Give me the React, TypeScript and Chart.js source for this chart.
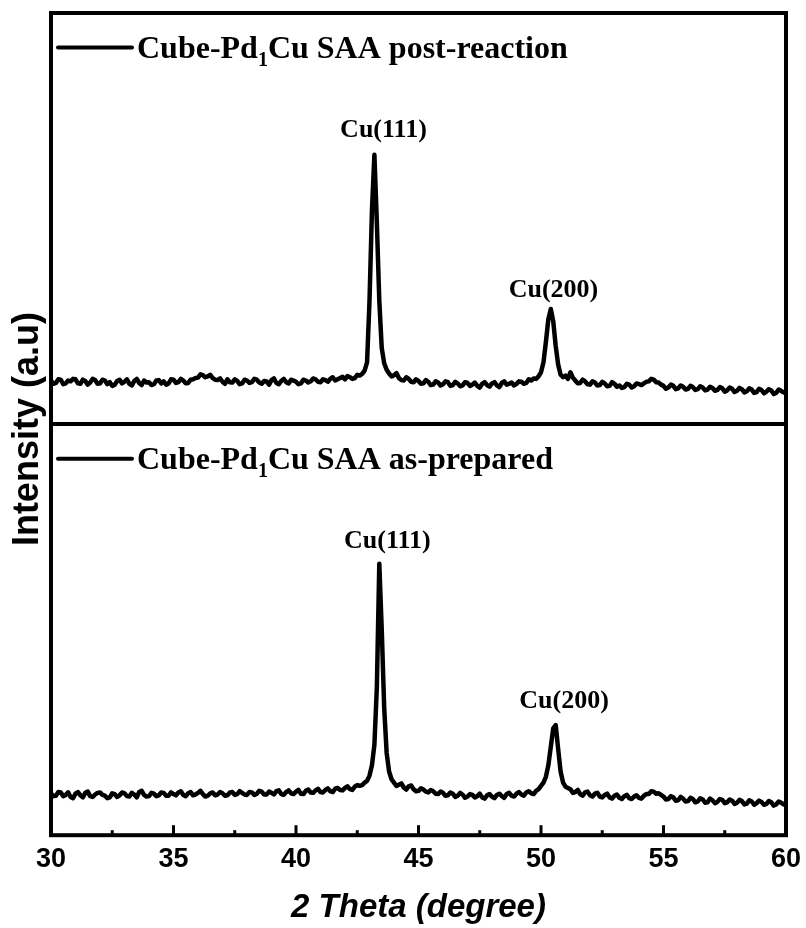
import React, { useEffect, useRef } from "react";
import { Chart, registerables } from "chart.js";

Chart.register(...registerables);

// 2θ grid (degrees), shared by both patterns
const theta = [
  30.0, 30.1, 30.2, 30.3, 30.4, 30.5, 30.6, 30.7, 30.8, 30.9,
  31.0, 31.1, 31.2, 31.3, 31.4, 31.5, 31.6, 31.7, 31.8, 31.9,
  32.0, 32.1, 32.2, 32.3, 32.4, 32.5, 32.6, 32.7, 32.8, 32.9,
  33.0, 33.1, 33.2, 33.3, 33.4, 33.5, 33.6, 33.7, 33.8, 33.9,
  34.0, 34.1, 34.2, 34.3, 34.4, 34.5, 34.6, 34.7, 34.8, 34.9,
  35.0, 35.1, 35.2, 35.3, 35.4, 35.5, 35.6, 35.7, 35.8, 35.9,
  36.0, 36.1, 36.2, 36.3, 36.4, 36.5, 36.6, 36.7, 36.8, 36.9,
  37.0, 37.1, 37.2, 37.3, 37.4, 37.5, 37.6, 37.7, 37.8, 37.9,
  38.0, 38.1, 38.2, 38.3, 38.4, 38.5, 38.6, 38.7, 38.8, 38.9,
  39.0, 39.1, 39.2, 39.3, 39.4, 39.5, 39.6, 39.7, 39.8, 39.9,
  40.0, 40.1, 40.2, 40.3, 40.4, 40.5, 40.6, 40.7, 40.8, 40.9,
  41.0, 41.1, 41.2, 41.3, 41.4, 41.5, 41.6, 41.7, 41.8, 41.9,
  42.0, 42.1, 42.2, 42.3, 42.4, 42.5, 42.6, 42.7, 42.8, 42.9,
  43.0, 43.1, 43.2, 43.3, 43.4, 43.5, 43.6, 43.7, 43.8, 43.9,
  44.0, 44.1, 44.2, 44.3, 44.4, 44.5, 44.6, 44.7, 44.8, 44.9,
  45.0, 45.1, 45.2, 45.3, 45.4, 45.5, 45.6, 45.7, 45.8, 45.9,
  46.0, 46.1, 46.2, 46.3, 46.4, 46.5, 46.6, 46.7, 46.8, 46.9,
  47.0, 47.1, 47.2, 47.3, 47.4, 47.5, 47.6, 47.7, 47.8, 47.9,
  48.0, 48.1, 48.2, 48.3, 48.4, 48.5, 48.6, 48.7, 48.8, 48.9,
  49.0, 49.1, 49.2, 49.3, 49.4, 49.5, 49.6, 49.7, 49.8, 49.9,
  50.0, 50.1, 50.2, 50.3, 50.4, 50.5, 50.6, 50.7, 50.8, 50.9,
  51.0, 51.1, 51.2, 51.3, 51.4, 51.5, 51.6, 51.7, 51.8, 51.9,
  52.0, 52.1, 52.2, 52.3, 52.4, 52.5, 52.6, 52.7, 52.8, 52.9,
  53.0, 53.1, 53.2, 53.3, 53.4, 53.5, 53.6, 53.7, 53.8, 53.9,
  54.0, 54.1, 54.2, 54.3, 54.4, 54.5, 54.6, 54.7, 54.8, 54.9,
  55.0, 55.1, 55.2, 55.3, 55.4, 55.5, 55.6, 55.7, 55.8, 55.9,
  56.0, 56.1, 56.2, 56.3, 56.4, 56.5, 56.6, 56.7, 56.8, 56.9,
  57.0, 57.1, 57.2, 57.3, 57.4, 57.5, 57.6, 57.7, 57.8, 57.9,
  58.0, 58.1, 58.2, 58.3, 58.4, 58.5, 58.6, 58.7, 58.8, 58.9,
  59.0, 59.1, 59.2, 59.3, 59.4, 59.5, 59.6, 59.7, 59.8, 59.9,
  60.0,
];

// Cube-Pd1Cu SAA post-reaction (a.u., within its own panel)
const postReaction = [
  10.6, 9.8, 10.0, 10.9, 10.8, 9.7, 9.9, 10.6, 10.4, 11.0,
  10.9, 9.9, 9.8, 10.8, 10.5, 9.6, 10.1, 11.0, 10.7, 9.8,
  9.9, 10.8, 10.6, 9.7, 10.2, 9.3, 9.6, 10.5, 10.8, 9.9,
  10.3, 10.9, 9.8, 9.4, 10.5, 11.0, 10.0, 9.5, 10.6, 10.1,
  10.2, 9.5, 9.7, 10.6, 10.7, 9.9, 10.4, 9.6, 9.9, 10.9,
  10.8, 10.0, 10.2, 11.0, 10.6, 9.9, 10.0, 10.8, 10.9, 11.2,
  11.3, 12.1, 11.9, 11.4, 11.6, 12.0, 11.2, 10.8, 10.7, 11.1,
  10.3, 9.8, 10.9, 10.2, 10.1, 10.9, 10.5, 9.7, 9.9, 10.8,
  10.6, 10.0, 10.2, 11.0, 10.8, 10.1, 9.8, 10.5, 10.4, 9.6,
  10.7, 11.1, 10.0, 9.7, 10.5, 11.0, 10.2, 9.9, 10.8, 10.6,
  10.3, 9.7, 9.9, 10.8, 10.6, 10.1, 10.4, 11.1, 10.9, 10.3,
  10.2, 10.9, 10.7, 10.3, 11.0, 11.4, 10.6, 10.9, 11.2, 11.5,
  10.9, 11.7, 11.4, 11.0, 11.2, 12.0, 11.8, 12.2, 13.0, 15.0,
  30.0, 52.0, 65.5, 49.0, 30.0, 18.5, 14.8, 13.2, 12.3, 11.6,
  11.9, 12.4, 11.2, 10.7, 10.6, 11.4, 11.0, 10.3, 10.2, 10.9,
  10.5, 9.8, 9.9, 10.7, 10.3, 9.5, 9.6, 10.4, 10.1, 9.4,
  9.7, 10.4, 10.2, 9.3, 9.5, 10.3, 9.9, 9.2, 9.4, 10.2,
  10.0, 9.3, 9.6, 10.1, 9.3, 8.9, 9.8, 10.2, 9.5, 9.1,
  9.9, 10.2, 9.4, 9.0, 10.0, 10.4, 9.6, 9.8, 10.1, 9.4,
  9.8, 10.4, 10.3, 9.8, 10.0, 10.9, 10.6, 11.1, 11.0, 11.6,
  12.6, 15.0, 20.0, 25.5, 28.0, 25.0, 19.0, 14.5, 12.0, 11.4,
  11.8, 11.0, 12.6, 11.3, 10.6, 9.9, 10.0, 10.8, 10.4, 9.7,
  9.6, 10.4, 10.1, 9.4, 9.5, 10.3, 9.9, 9.2, 9.3, 10.2,
  9.8, 9.1, 9.4, 8.8, 9.0, 9.8, 9.6, 8.9, 9.2, 9.9,
  9.7, 9.5, 9.9, 10.3, 10.4, 11.0, 10.8, 10.2, 10.1, 9.6,
  9.3, 8.6, 8.9, 9.6, 9.3, 8.5, 8.7, 9.4, 9.1, 8.4,
  8.6, 9.3, 9.0, 8.3, 8.5, 9.2, 8.9, 8.2, 8.4, 9.1,
  8.8, 8.1, 8.3, 9.0, 8.7, 7.9, 8.2, 8.9, 8.6, 7.8,
  8.1, 8.8, 8.5, 7.7, 8.0, 8.7, 8.4, 7.6, 7.8, 8.6,
  8.3, 7.5, 7.9, 8.5, 8.2, 7.3, 7.6, 8.4, 8.1, 7.7,
  7.9,
];

// Cube-Pd1Cu SAA as-prepared (a.u., within its own panel)
const asPrepared = [
  10.2, 9.5, 9.6, 10.5, 10.4, 9.5, 9.8, 10.4, 9.3, 9.0,
  10.1, 10.5, 9.7, 9.2, 10.3, 10.6, 9.5, 9.3, 9.9, 10.3,
  10.4, 9.8, 9.6, 9.0, 9.2, 10.2, 10.0, 9.3, 9.7, 10.4,
  10.2, 9.5, 9.4, 10.3, 9.9, 9.2, 10.5, 10.8, 9.8, 9.4,
  9.5, 10.3, 10.1, 9.5, 9.7, 10.4, 10.3, 9.6, 9.6, 10.4,
  10.0, 9.7, 10.4, 10.7, 9.8, 9.5, 10.2, 10.5, 9.7, 9.9,
  10.3, 10.8, 10.0, 9.4, 9.6, 10.2, 10.4, 9.7, 9.9, 10.5,
  10.2, 9.6, 9.7, 10.4, 10.5, 9.8, 10.0, 10.7, 10.3, 9.9,
  9.8, 10.5, 10.4, 9.8, 10.1, 10.8, 10.6, 9.9, 9.9, 10.6,
  10.3, 9.9, 10.7, 10.9, 10.0, 9.8, 10.5, 10.9, 10.2, 10.0,
  10.6, 11.0, 10.1, 10.0, 10.8, 11.1, 10.4, 10.3, 10.9, 11.3,
  10.5, 10.4, 11.0, 11.4, 10.7, 10.5, 11.3, 11.5, 11.0, 10.9,
  11.5, 11.9, 11.2, 11.0, 11.8, 12.2, 12.0, 12.2, 12.8, 13.2,
  14.5, 17.0, 22.0, 36.0, 66.0, 50.0, 31.0, 20.0, 15.5, 13.6,
  12.8, 12.0, 12.3, 12.6, 11.6, 11.1, 11.9, 12.1, 11.2, 10.7,
  10.8, 11.4, 11.1, 10.6, 10.4, 11.0, 10.7, 10.1, 10.0, 10.6,
  10.3, 9.6, 9.7, 10.4, 10.1, 9.3, 9.6, 10.3, 9.9, 9.1,
  9.4, 10.0, 9.8, 9.2, 9.5, 10.1, 9.2, 8.9, 9.7, 10.0,
  9.4, 9.0, 9.8, 10.1, 9.5, 9.1, 10.0, 10.3, 9.6, 9.4,
  10.1, 10.5, 9.9, 9.6, 10.4, 10.7, 10.2, 10.0, 10.8, 11.2,
  12.0, 12.8, 14.2, 17.0, 21.5, 26.0, 26.8, 21.0, 15.5, 12.8,
  11.8, 11.5, 11.2, 10.3, 10.5, 11.0, 10.0, 9.6, 10.4, 10.6,
  9.7, 9.4, 10.1, 10.3, 9.4, 9.2, 9.8, 10.1, 9.2, 8.9,
  9.6, 9.9, 9.1, 8.8, 9.5, 9.8, 9.0, 8.8, 9.4, 9.7,
  9.1, 8.9, 9.6, 10.0, 10.0, 10.7, 10.6, 10.1, 10.2, 9.8,
  9.4, 8.7, 8.8, 9.5, 9.2, 8.4, 8.5, 9.3, 8.9, 8.2,
  8.3, 9.1, 8.8, 8.0, 8.2, 9.0, 8.7, 7.9, 8.0, 8.9,
  8.5, 7.8, 8.1, 8.8, 8.6, 7.8, 8.0, 8.7, 8.4, 7.6,
  7.9, 8.6, 8.3, 7.5, 7.7, 8.5, 8.2, 7.4, 7.8, 8.4,
  8.1, 7.4, 7.6, 8.3, 8.0, 7.2, 7.5, 8.2, 7.9, 7.5,
  7.8,
];

const panelSpan = 100; // each pattern occupies one panel of this height
const xTickValues = [30, 35, 40, 45, 50, 55, 60];
const xMinorTicks = [32.5, 37.5, 42.5, 47.5, 52.5, 57.5];

// legend entries (top panel first): main text, subscript, rest
const seriesNamePre = ["Cube-Pd", "Cube-Pd"];
const seriesNameSub = ["1", "1"];
const seriesNamePost = ["Cu SAA post-reaction", "Cu SAA as-prepared"];
const legendLevel = 91.6; // within each panel

// peak labels (value on the stacked axis)
const peakLabelText = ["Cu(111)", "Cu(200)", "Cu(111)", "Cu(200)"];
const peakLabelTheta = [43.57, 50.51, 43.73, 50.94];
const peakLabelValue = [169.8, 130.9, 69.8, 30.9];

const SANS = "'Liberation Sans', Arial, sans-serif";
const SERIF = "'Liberation Serif', 'Times New Roman', serif";

const decorPlugin = {
  id: "decor",
  afterDatasetsDraw(chart: any) {
    const { ctx, chartArea, scales } = chart;
    const { left, right, top, bottom } = chartArea;
    const x = scales.x;
    const y = scales.y;
    ctx.save();
    ctx.strokeStyle = "#000";
    ctx.fillStyle = "#000";
    ctx.lineWidth = 4;
    ctx.strokeRect(left, top, right - left, bottom - top);
    const yDiv = y.getPixelForValue(panelSpan);
    ctx.beginPath();
    ctx.moveTo(left, yDiv);
    ctx.lineTo(right, yDiv);
    ctx.stroke();

    ctx.lineWidth = 3;
    xTickValues.forEach((t) => {
      const px = x.getPixelForValue(t);
      ctx.beginPath();
      ctx.moveTo(px, bottom);
      ctx.lineTo(px, bottom - 10);
      ctx.stroke();
    });
    xMinorTicks.forEach((t) => {
      const px = x.getPixelForValue(t);
      ctx.beginPath();
      ctx.moveTo(px, bottom);
      ctx.lineTo(px, bottom - 5);
      ctx.stroke();
    });

    // legends
    seriesNamePre.forEach((pre, i) => {
      const offset = i === 0 ? panelSpan : 0;
      const ly = y.getPixelForValue(offset + legendLevel);
      ctx.lineWidth = 4;
      ctx.lineCap = "round";
      ctx.beginPath();
      ctx.moveTo(left + 7, ly);
      ctx.lineTo(left + 81, ly);
      ctx.stroke();
      const base = ly + 10;
      let tx = left + 86;
      ctx.textAlign = "left";
      ctx.textBaseline = "alphabetic";
      ctx.font = `bold 32px ${SERIF}`;
      ctx.fillText(pre, tx, base);
      tx += ctx.measureText(pre).width;
      ctx.font = `bold 20px ${SERIF}`;
      ctx.fillText(seriesNameSub[i], tx, base + 8);
      tx += ctx.measureText(seriesNameSub[i]).width;
      ctx.font = `bold 32px ${SERIF}`;
      ctx.fillText(seriesNamePost[i], tx, base);
    });

    // peak labels
    ctx.font = `bold 26px ${SERIF}`;
    ctx.textAlign = "center";
    ctx.textBaseline = "alphabetic";
    peakLabelText.forEach((txt, i) => {
      ctx.fillText(txt, x.getPixelForValue(peakLabelTheta[i]), y.getPixelForValue(peakLabelValue[i]));
    });
    ctx.restore();
  },
};

export default function App() {
  const ref = useRef<HTMLCanvasElement | null>(null);
  useEffect(() => {
    document.body.style.margin = "0";
    const canvas = ref.current;
    if (!canvas) return;
    const lineStyle = {
      borderColor: "#000",
      borderWidth: 4.5,
      pointRadius: 0,
      tension: 0,
      borderJoinStyle: "round" as const,
      borderCapStyle: "round" as const,
    };
    const chart = new Chart(canvas, {
      type: "line",
      data: {
        datasets: [
          {
            label: "post-reaction",
            data: theta.map((t, i) => ({ x: t, y: postReaction[i] + panelSpan })),
            ...lineStyle,
          },
          {
            label: "as-prepared",
            data: theta.map((t, i) => ({ x: t, y: asPrepared[i] })),
            ...lineStyle,
          },
        ],
      },
      options: {
        responsive: false,
        animation: false,
        events: [],
        layout: { autoPadding: false, padding: { left: 0, top: 13, right: 20, bottom: 0 } },
        plugins: { legend: { display: false }, tooltip: { enabled: false } },
        scales: {
          x: {
            type: "linear",
            min: 30,
            max: 60,
            afterFit: (scale: any) => {
              scale.paddingLeft = 0;
              scale.paddingRight = 0;
            },
            grid: { display: false, drawTicks: false },
            border: { display: false },
            ticks: {
              stepSize: 5,
              padding: 8,
              color: "#000",
              font: { family: SANS, weight: "bold", size: 27 },
            },
            title: {
              display: true,
              text: "2 Theta (degree)",
              color: "#000",
              font: { family: SANS, weight: "bold", style: "italic", size: 33 },
              padding: { top: 4.8, bottom: 0 },
            },
          },
          y: {
            min: 0,
            max: 2 * panelSpan,
            grid: { display: false, drawTicks: false },
            border: { display: false },
            ticks: { display: false },
            title: {
              display: true,
              text: "Intensity (a.u) ",
              color: "#000",
              font: { family: SANS, weight: "bold", size: 36 },
              padding: { top: 6.4, bottom: 1.4 },
            },
          },
        },
      },
      plugins: [decorPlugin],
    });
    return () => chart.destroy();
  }, []);
  return <canvas ref={ref} width={806} height={928} style={{ display: "block" }} />;
}
